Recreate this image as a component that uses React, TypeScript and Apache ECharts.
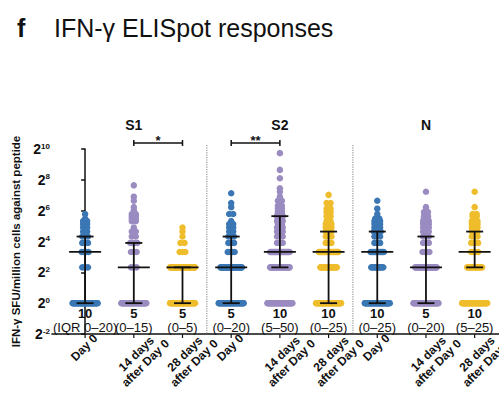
import React, { useEffect, useRef } from 'react';
import * as echarts from 'echarts';

// ---------- data ----------
const panels = ['S1', 'S2', 'N'];
const timepoints = ['Day 0', '14 days\nafter Day 0', '28 days\nafter Day 0'];
const timepointColors = ['#3a77b4', '#9a8bc1', '#efbd2c'];

// IFN-γ SFU per million cells: [value, number of donors at that value]; 0 = no response (drawn at 2^0)
const s1Day0 = [[0, 40], [5, 3], [10, 4], [15, 3], [20, 3], [25, 2], [30, 2], [35, 2], [40, 2], [45, 1], [55, 1]];
const s1Day14 = [[0, 40], [5, 3], [10, 3], [15, 4], [20, 2], [25, 2], [30, 1], [40, 2], [45, 2], [50, 2], [55, 2], [65, 1], [75, 1], [100, 1], [120, 1], [200, 1]];
const s1Day28 = [[0, 40], [5, 40], [10, 3], [15, 2], [20, 1], [25, 1], [30, 1]];
const s2Day0 = [[0, 40], [5, 30], [10, 4], [15, 3], [20, 3], [25, 2], [30, 2], [35, 2], [40, 1], [55, 2], [75, 1], [90, 1], [140, 1]];
const s2Day14 = [[0, 40], [5, 25], [10, 25], [15, 3], [20, 3], [25, 3], [30, 3], [35, 2], [40, 3], [45, 2], [50, 3], [55, 2], [60, 2], [70, 2], [80, 2], [90, 1], [100, 2], [120, 1], [150, 1], [175, 1], [275, 1], [400, 1], [850, 1]];
const s2Day28 = [[0, 40], [5, 18], [10, 25], [15, 3], [20, 3], [25, 3], [30, 3], [35, 3], [40, 2], [50, 2], [60, 2], [70, 2], [90, 2], [130, 1]];
const nDay0 = [[0, 40], [5, 10], [10, 12], [15, 3], [20, 3], [25, 4], [30, 3], [35, 3], [40, 3], [45, 2], [55, 1], [70, 1], [100, 1]];
const nDay14 = [[0, 40], [5, 30], [10, 4], [15, 3], [20, 3], [25, 3], [30, 3], [35, 3], [40, 3], [45, 2], [50, 2], [60, 2], [75, 1], [150, 1]];
const nDay28 = [[0, 40], [5, 15], [10, 4], [15, 4], [20, 3], [25, 3], [30, 3], [35, 3], [40, 3], [50, 2], [55, 2], [75, 1], [150, 1]];
const groupPoints = [s1Day0, s1Day14, s1Day28, s2Day0, s2Day14, s2Day28, nDay0, nDay14, nDay28];

const medians = [10, 5, 5, 5, 10, 10, 10, 5, 10];
const lowerQuartiles = [0, 0, 0, 0, 5, 0, 0, 0, 5];
const upperQuartiles = [20, 15, 5, 20, 50, 25, 25, 20, 25];

// significance brackets: [group a, group b, mark]
const comparisons: [number, number, string][] = [[1, 2, '*'], [3, 4, '**']];

// y axis in log2 units (2^-2 … 2^10)
const yMinExp = -2;
const yMaxExp = 10;
const yStepExp = 2;

// ---------- helpers ----------
const FONT = '"Liberation Sans", Arial, Helvetica, sans-serif';
const INK = '#111111';
const toLog = (v: number) => Math.log2(Math.max(v, 1));

function spread(n: number): number[] {
  if (n <= 1) return [0];
  const span = Math.min(25.5, 4 * Math.sqrt(n - 1));
  const out: number[] = [];
  for (let k = 0; k < n; k++) out.push(-span / 2 + (span * k) / (n - 1));
  return out;
}

function buildOption() {
  const scatterSeries = groupPoints.map((pts, g) => {
    const data: any[] = [];
    pts.forEach(([v, n]) => {
      spread(n).forEach((dx) => {
        data.push({ value: [g, toLog(v)], symbolOffset: [dx, 0] });
      });
    });
    return {
      type: 'scatter',
      name: panels[Math.floor(g / 3)] + ' ' + timepoints[g % 3],
      data,
      symbol: 'circle',
      symbolSize: 6.5,
      itemStyle: { color: timepointColors[g % 3], opacity: 1 },
      z: 2,
      silent: true,
    };
  });

  const line = (x1: number, y1: number, x2: number, y2: number, lw = 1.8, extra: any = {}) => ({
    type: 'line',
    shape: { x1, y1, x2, y2 },
    style: { stroke: INK, lineWidth: lw, ...extra },
  });

  const groupSeries = {
    type: 'custom',
    clip: false,
    z: 5,
    silent: true,
    data: medians.map((m, i) => [i, toLog(m), toLog(lowerQuartiles[i]), toLog(upperQuartiles[i])]),
    renderItem: (params: any, api: any) => {
      const i = params.dataIndex;
      const g = api.value(0);
      const [x, yMed] = api.coord([g, api.value(1)]);
      const yQ1 = api.coord([g, api.value(2)])[1];
      const yQ3 = api.coord([g, api.value(3)])[1];
      const yBase = api.coord([g, yMinExp])[1];
      const label = timepoints[i % 3];
      const twoLine = label.indexOf('\n') >= 0;
      const iqr = i === 0
        ? `(IQR ${lowerQuartiles[i]}–${upperQuartiles[i]})`
        : `(${lowerQuartiles[i]}–${upperQuartiles[i]})`;
      return {
        type: 'group',
        children: [
          line(x, yQ1, x, yQ3),
          line(x - 16, yMed, x + 16, yMed),
          line(x - 8.5, yQ1, x + 8.5, yQ1),
          line(x - 8.5, yQ3, x + 8.5, yQ3),
          line(x, yBase, x, yBase + 4, 1.2),
          {
            type: 'text', x, y: yBase - 20.5,
            style: { text: String(medians[i]), fontSize: 13, lineHeight: 13, fontWeight: 'bold', fontFamily: FONT, fill: INK, align: 'center', verticalAlign: 'middle' },
          },
          {
            type: 'text', x, y: yBase - 6.5,
            style: { text: iqr, fontSize: 13, lineHeight: 13, fontFamily: FONT, fill: INK, align: 'center', verticalAlign: 'middle' },
          },
          {
            type: 'text', x: x + (twoLine ? 7 : -1), y: yBase + (twoLine ? 24.5 : 13.5), rotation: Math.PI / 4,
            style: { text: label, fontSize: 12, fontWeight: 'bold', fontFamily: FONT, fill: INK, align: 'center', verticalAlign: 'middle', lineHeight: 13 },
          },
        ],
      };
    },
  };

  const panelSeries = {
    type: 'custom',
    clip: false,
    z: 4,
    silent: true,
    data: panels.map((p, k) => [3 * k + 1, yMaxExp]),
    renderItem: (params: any, api: any) => {
      const k = params.dataIndex;
      const g = api.value(0);
      const [x, yTop] = api.coord([g, api.value(1)]);
      const yBase = api.coord([g, yMinExp])[1];
      const children: any[] = [
        {
          type: 'text', x, y: yTop - 24,
          style: { text: panels[k], fontSize: 14, fontWeight: 'bold', fontFamily: FONT, fill: INK, align: 'center', verticalAlign: 'middle' },
        },
      ];
      if (k > 0) {
        const xl = api.coord([g - 2, yMinExp])[0];
        const xr = api.coord([g - 1, yMinExp])[0];
        const xs = (xl + xr) / 2;
        children.push(line(xs, yTop - 4, xs, yBase, 1, { stroke: '#808080', lineDash: [1.2, 1.2] }));
      }
      return { type: 'group', children };
    },
  };

  const bracketSeries = {
    type: 'custom',
    clip: false,
    z: 4,
    silent: true,
    data: comparisons.map((c) => [c[0], c[1], yMaxExp]),
    renderItem: (params: any, api: any) => {
      const [x1, yTop] = api.coord([api.value(0), api.value(2)]);
      const x2 = api.coord([api.value(1), api.value(2)])[0];
      const y = yTop - 6;
      return {
        type: 'group',
        children: [
          line(x1, y, x2, y, 1.5),
          line(x1, y - 3, x1, y + 3, 1.5),
          line(x2, y - 3, x2, y + 3, 1.5),
          {
            type: 'text', x: (x1 + x2) / 2, y: y - 3,
            style: { text: comparisons[params.dataIndex][2], fontSize: 13, fontWeight: 'bold', fontFamily: FONT, fill: INK, align: 'center', verticalAlign: 'middle' },
          },
        ],
      };
    },
  };

  return {
    animation: false,
    backgroundColor: '#ffffff',
    textStyle: { fontFamily: FONT },
    graphic: [
      { type: 'text', left: 17, top: 15, style: { text: 'f', fontSize: 25, fontWeight: 'bold', fontFamily: FONT, fill: INK } },
      { type: 'text', left: 54, top: 15, style: { text: 'IFN-γ ELISpot responses', fontSize: 25, fontFamily: FONT, fill: INK } },
    ],
    grid: { left: 52, right: 0, top: 149, bottom: 63, containLabel: false },
    xAxis: {
      type: 'value',
      min: -0.68,
      max: 8.5,
      axisLine: { show: true, onZero: false, lineStyle: { color: INK, width: 1.5 } },
      axisTick: { show: false },
      axisLabel: { show: false },
      splitLine: { show: false },
    },
    yAxis: {
      type: 'value',
      min: yMinExp,
      max: yMaxExp,
      interval: yStepExp,
      name: 'IFN-γ SFU/million cells against peptide',
      nameLocation: 'middle',
      nameGap: 17,
      nameTextStyle: { fontSize: 11.5, fontWeight: 'bold', color: INK, fontFamily: FONT },
      axisLine: { show: true, lineStyle: { color: INK, width: 1.5 } },
      axisTick: { show: true, length: 4, lineStyle: { color: INK, width: 1.5 } },
      splitLine: { show: false },
      axisLabel: {
        margin: 2,
        formatter: (v: number) => `{b|2}{s|${v}}`,
        rich: {
          b: { fontSize: 14, fontWeight: 'bold', color: INK, fontFamily: FONT },
          s: { fontSize: 8, fontWeight: 'bold', color: INK, fontFamily: FONT, padding: [0, 0, 6, 0] },
        },
      },
    },
    series: [...scatterSeries, groupSeries, panelSeries, bracketSeries],
  };
}

export default function App() {
  const ref = useRef<HTMLDivElement>(null);
  useEffect(() => {
    if (!ref.current) return;
    const chart = echarts.init(ref.current, undefined, { renderer: 'svg' });
    chart.setOption(buildOption() as any);
    return () => chart.dispose();
  }, []);
  return (
    <div
      ref={ref}
      style={{ position: 'fixed', left: 0, top: 0, width: 499, height: 397, background: '#fff' }}
    />
  );
}
